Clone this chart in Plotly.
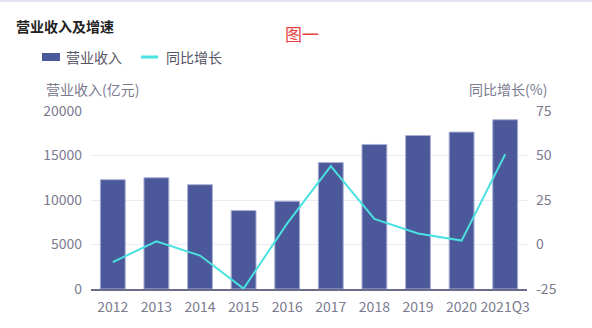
import plotly.graph_objects as go

categories = ["2012", "2013", "2014", "2015", "2016", "2017", "2018", "2019", "2020", "2021Q3"]
revenue = [12280, 12500, 11720, 8810, 9860, 14200, 16240, 17250, 17630, 19020]
growth = [-9.9, 1.8, -6.2, -24.8, 11.9, 44.0, 14.4, 6.2, 2.2, 50.7]
left_ticks = [0, 5000, 10000, 15000, 20000]
left_labels = ["0", "5000", "10000", "15000", "20000"]
right_ticks = [-25, 0, 25, 50, 75]
right_labels = ["-25", "0", "25", "50", "75"]

W, H = 592, 328
ML, MR, MT, MB = 91, 65, 111, 39
PW, PH = W - ML - MR, H - MT - MB

def px(x):
    return (x - ML) / PW

def py(y):
    return (H - MB - y) / PH

FONT = "Noto Sans CJK SC, Microsoft YaHei, sans-serif"
GREY = "#7b7b8f"
BAR = "#4b5899"
LINE = "#4ae1e1"

fig = go.Figure()
fig.add_trace(go.Bar(x=categories, y=revenue, name="营业收入", marker=dict(color=BAR, line=dict(color="#a9b0d4", width=1)), yaxis="y"))
fig.add_trace(go.Scatter(x=categories, y=growth, name="同比增长", mode="lines", line=dict(color=LINE, width=2), yaxis="y2"))

fig.update_layout(
    width=W, height=H,
    margin=dict(l=ML, r=MR, t=MT, b=MB, pad=0),
    paper_bgcolor="white", plot_bgcolor="white",
    font=dict(family=FONT, color=GREY, size=14),
    showlegend=False,
    bargap=0.43,
    title=dict(text="<b>营业收入及增速</b>", x=16 / W, xanchor="left", xref="container",
               y=1 - 27 / H, yanchor="middle", yref="container",
               font=dict(size=14, color="#222222", family=FONT)),
    xaxis=dict(type="category", showline=True, linecolor="#6c6c8a", linewidth=2,
               showgrid=False, ticks="", tickfont=dict(size=14, color=GREY), ticklabelstandoff=4),
    yaxis=dict(range=[0, 20000], tickvals=left_ticks, ticktext=left_labels, showgrid=True,
               gridcolor="#ebebf5", gridwidth=1, zeroline=False, showline=False, ticks="",
               tickfont=dict(size=14, color=GREY), ticklabelstandoff=8),
    yaxis2=dict(range=[-25, 75], tickvals=right_ticks, ticktext=right_labels, overlaying="y", side="right",
                showgrid=False, zeroline=False, showline=False, ticks="",
                tickfont=dict(size=14, color=GREY), ticklabelstandoff=8),
)

# legend drawn manually
fig.add_shape(type="rect", xref="paper", yref="paper", x0=px(42), x1=px(60), y0=py(61), y1=py(53),
              fillcolor=BAR, line=dict(width=0))
fig.add_annotation(text="营业收入", xref="paper", yref="paper", x=px(64), y=py(57), xanchor="left",
                   yanchor="middle", showarrow=False, font=dict(size=14, color="#555566"))
fig.add_shape(type="line", xref="paper", yref="paper", x0=px(141), x1=px(158), y0=py(57), y1=py(57),
              line=dict(color=LINE, width=3))
fig.add_annotation(text="同比增长", xref="paper", yref="paper", x=px(164), y=py(57), xanchor="left",
                   yanchor="middle", showarrow=False, font=dict(size=14, color="#555566"))

# axis titles
fig.add_annotation(text="营业收入(亿元)", xref="paper", yref="paper", x=px(44), y=py(89), xanchor="left",
                   yanchor="middle", showarrow=False, font=dict(size=14, color=GREY))
fig.add_annotation(text="同比增长(%)", xref="paper", yref="paper", x=px(549), y=py(89), xanchor="right",
                   yanchor="middle", showarrow=False, font=dict(size=14, color=GREY))

# red label
fig.add_annotation(text="图一", xref="paper", yref="paper", x=px(283), y=py(33), xanchor="left",
                   yanchor="middle", showarrow=False, font=dict(size=17, color="#e8413f"))

# top border
fig.add_shape(type="line", xref="paper", yref="paper", x0=px(0), x1=px(W), y0=py(1), y1=py(1),
              line=dict(color="#e4e4f0", width=2))

fig.write_html("out.html")
